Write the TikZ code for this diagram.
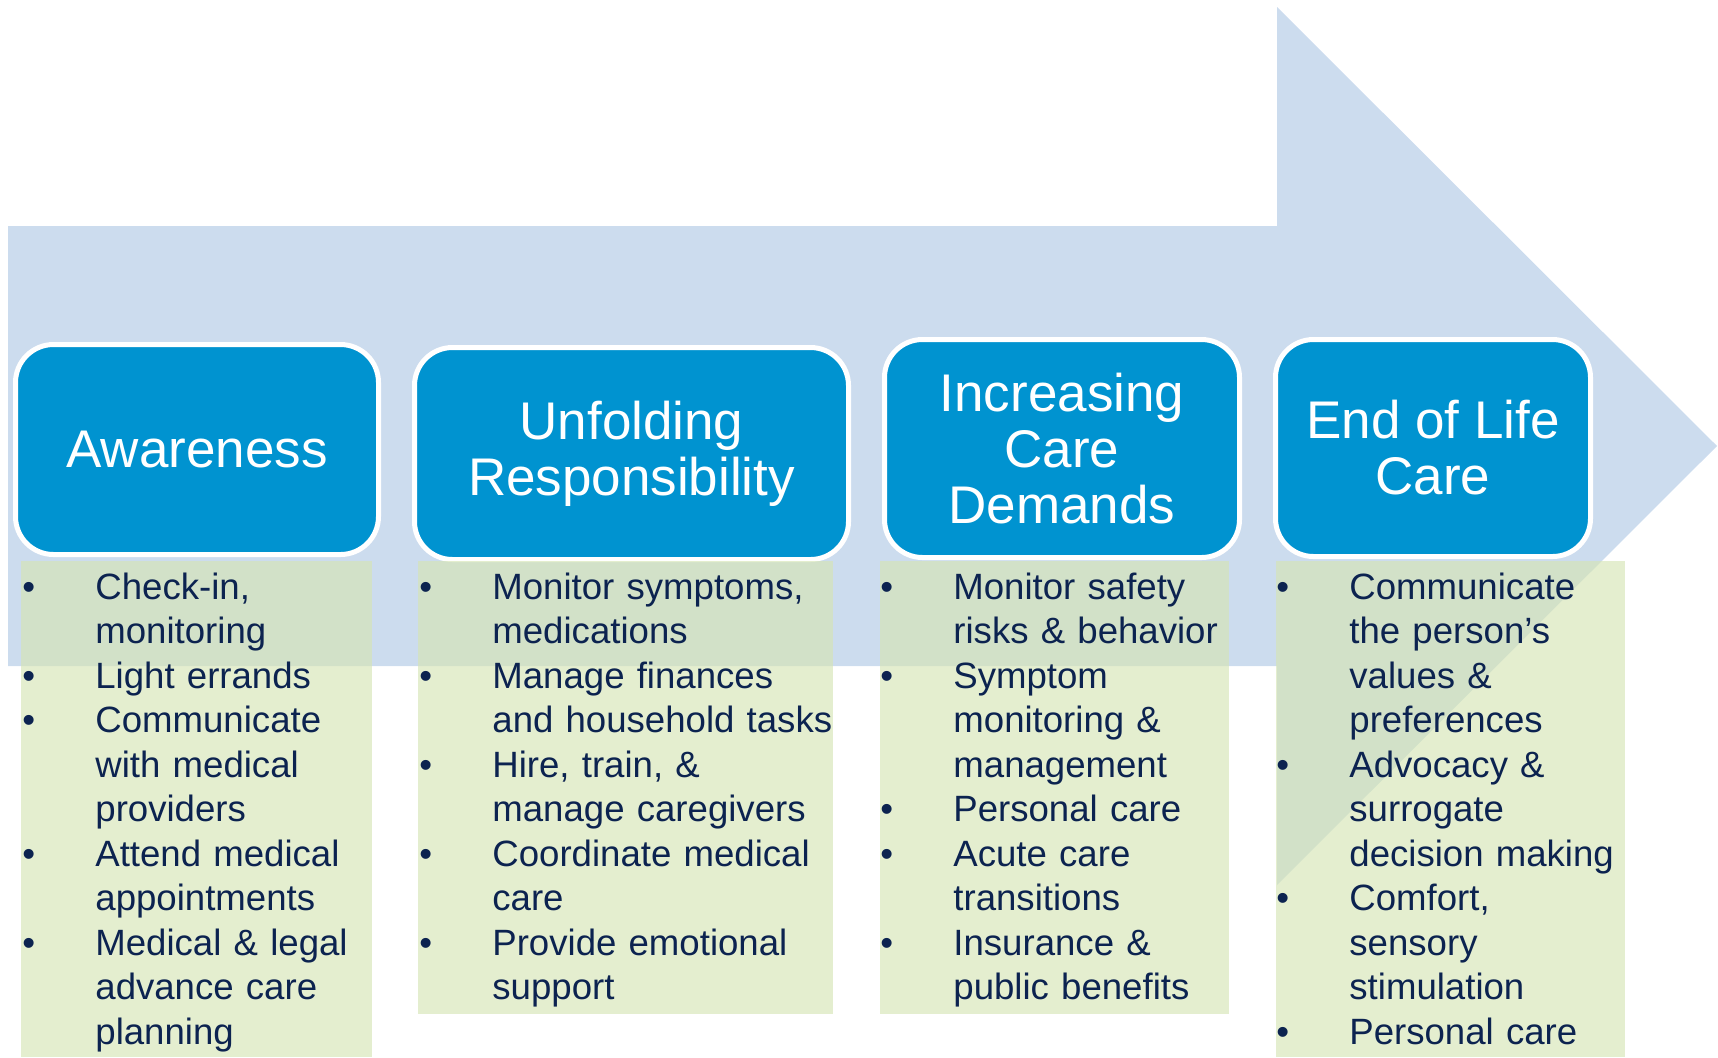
\documentclass[tikz,border=0pt]{standalone}
\usepackage{fontspec}
\setmainfont{Liberation Sans}
\usepackage{tikz}
\setlength{\parskip}{0pt}
\definecolor{arrowblue}{HTML}{CCDCEE}
\definecolor{stageblue}{HTML}{0093D0}
\definecolor{listgreen}{RGB}{214,229,181}
\definecolor{listtext}{HTML}{0C2350}
\newcommand{\careitem}[1]{\noindent\hangindent=36.5pt\hangafter=1\makebox[36.5pt][l]{\textbullet}#1\par}
\tikzset{x=0.5pt, y=-0.5pt,
  stage/.style={draw=white, line width=2.5pt, fill=stageblue, rounded corners=19pt,
    text=white, align=center, inner sep=0pt, font=\fontsize{26.5}{28}\selectfont},
  tasks/.style={anchor=base west, inner sep=0pt, text width=240pt, align=left,
    text=listtext, font=\fontsize{18.3}{22.25}\selectfont}}

\begin{document}
\begin{tikzpicture}
  \useasboundingbox (0,0) rectangle (1718,1057);
  % big arrow behind the stages
  \fill[arrowblue] (8,226) -- (1277,226) -- (1277,7) -- (1717,446)
    -- (1277,885) -- (1277,666) -- (8,666) -- cycle;
  % stages
  \node (aware)  [stage, minimum width=181.5pt, minimum height=105pt] at (197,449.5) {Awareness};
  \node (unfold) [stage, minimum width=217pt, minimum height=106pt] at (631.5,453.5) {Unfolding\\Responsibility};
  \node (incr)   [stage, minimum width=177.5pt, minimum height=109pt] at (1062,448.5) {Increasing\\Care\\Demands};
  \node (eol)    [stage, minimum width=157.5pt, minimum height=108.5pt] at (1433,448) {End of Life\\Care};
  % task panels
  \foreach \l/\r/\b in {21/372/1057, 418/833/1014, 880/1229/1014, 1276/1625/1057}
    \fill[listgreen, fill opacity=0.65] (\l,561) rectangle (\r,\b);
  \node (awareList) [tasks] at (22,599) {%
    \careitem{Check-in,\newline monitoring}
    \careitem{Light errands}
    \careitem{Communicate\newline with medical\newline providers}
    \careitem{Attend medical\newline appointments}
    \careitem{Medical \& legal\newline advance care\newline planning}};
  \node (unfoldList) [tasks] at (419,599) {%
    \careitem{Monitor symptoms,\newline medications}
    \careitem{Manage finances\newline and household tasks}
    \careitem{Hire, train, \&\newline manage caregivers}
    \careitem{Coordinate medical\newline care}
    \careitem{Provide emotional\newline support}};
  \node (incrList) [tasks] at (880,599) {%
    \careitem{Monitor safety\newline risks \& behavior}
    \careitem{Symptom\newline monitoring \&\newline management}
    \careitem{Personal care}
    \careitem{Acute care\newline transitions}
    \careitem{Insurance \&\newline public benefits}};
  \node (eolList) [tasks] at (1276,599) {%
    \careitem{Communicate\newline the person’s\newline values \&\newline preferences}
    \careitem{Advocacy \&\newline surrogate\newline decision making}
    \careitem{Comfort,\newline sensory\newline stimulation}
    \careitem{Personal care}};
\end{tikzpicture}
\end{document}
